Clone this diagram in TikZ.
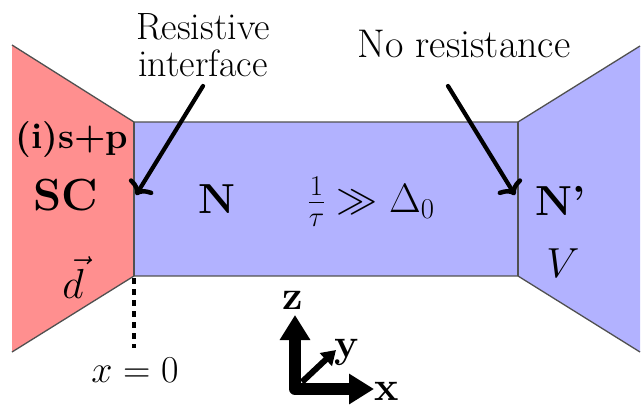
\RequirePackage{fix-cm}
\documentclass[tikz,border=0pt]{standalone}
\usetikzlibrary{arrows.meta}
\definecolor{scred}{RGB}{255,143,143}
\definecolor{nblue}{RGB}{178,178,255}
\definecolor{edgegray}{RGB}{80,80,80}
\begin{document}
\begin{tikzpicture}[x=1pt,y=-1pt,
  edge/.style={draw=edgegray, line width=1.3pt},
  pointer/.style={line width=4.2pt, line cap=round, -{Computer Modern Rightarrow[length=12pt,width=28pt,line width=4.5pt]}},
  lbl/.style={font=\fontsize{38}{37}\selectfont, align=center, inner sep=0pt},
  txt/.style={font=\fontsize{40}{46}\selectfont, inner sep=0pt, anchor=base},
  axis/.style={line width=12pt, line join=round}
]
\useasboundingbox (0,0) rectangle (641,408);
% regions
\fill[nblue] (134,122) rectangle (518,276);
\fill[scred] (12,45) -- (134,122) -- (134,276) -- (12,352) -- cycle;
\fill[nblue] (640,46) -- (518,122) -- (518,276) -- (640,352) -- cycle;
\draw[edge] (12,45) -- (134,122) -- (518,122) -- (640,46);
\draw[edge] (12,352) -- (134,276) -- (518,276) -- (640,352);
\draw[edge] (134,122) -- (134,276);
\draw[edge] (518,122) -- (518,276);
% labels
\node[lbl] (ri) at (203,45) {Resistive\\interface};
\node[txt, font=\fontsize{40}{46}\selectfont] (nr) at (464,57) {No resistance};
\node[txt, font=\fontsize{36}{40}\selectfont\bfseries] (isp) at (72,148) {(i)s+p};
\node[txt, font=\fontsize{45}{50}\selectfont\bfseries] (sc) at (66,210) {SC};
\node[txt, font=\fontsize{42}{50}\selectfont] (dv) at (73,298) {$\vec{d}$};
\node[txt, font=\fontsize{42}{50}\selectfont\bfseries] (n) at (217,213) {N};
\node[txt, font=\fontsize{41}{50}\selectfont] (eq) at (371,212) {$\frac{1}{\tau}\gg\Delta_0$};
\node[txt, font=\fontsize{42}{50}\selectfont\bfseries] (np) at (561,215) {N'};
\node[txt, font=\fontsize{42}{50}\selectfont] (v) at (563,277) {$V$};
\node[txt, font=\fontsize{38}{44}\selectfont] (x0) at (135,382) {$x=0$};
% pointers
\coordinate (p1) at (203,86);
\coordinate (t1) at (136,195);
\coordinate (p2) at (448,86);
\coordinate (t2) at (515,195);
\draw[pointer] (p1) -- (t1);
\draw[pointer] (p2) -- (t2);
% x = 0 marker
\coordinate (d1) at (134,278);
\coordinate (d2) at (134,348);
\draw[line width=4.5pt, dash pattern=on 6pt off 5pt] (d1) -- (d2);
% axes
\coordinate (o) at (295,389);
\coordinate (zt) at (295,315);
\coordinate (xt) at (374,389);
\coordinate (yo) at (302,382);
\coordinate (yt) at (336,350);
\draw[axis, {Triangle[length=25pt,width=29pt]}-{Triangle[length=25pt,width=29pt]}] (zt) -- (o) -- (xt);
\draw[line width=6pt, -{Triangle[length=14pt,width=17pt]}] (yo) -- (yt);
\node[txt, font=\fontsize{41}{50}\selectfont\bfseries] (zl) at (293,309) {z};
\node[txt, font=\fontsize{41}{50}\selectfont\bfseries] (yl) at (347,357) {y};
\node[txt, font=\fontsize{41}{50}\selectfont\bfseries] (xl) at (387,400) {x};
\end{tikzpicture}
\end{document}
